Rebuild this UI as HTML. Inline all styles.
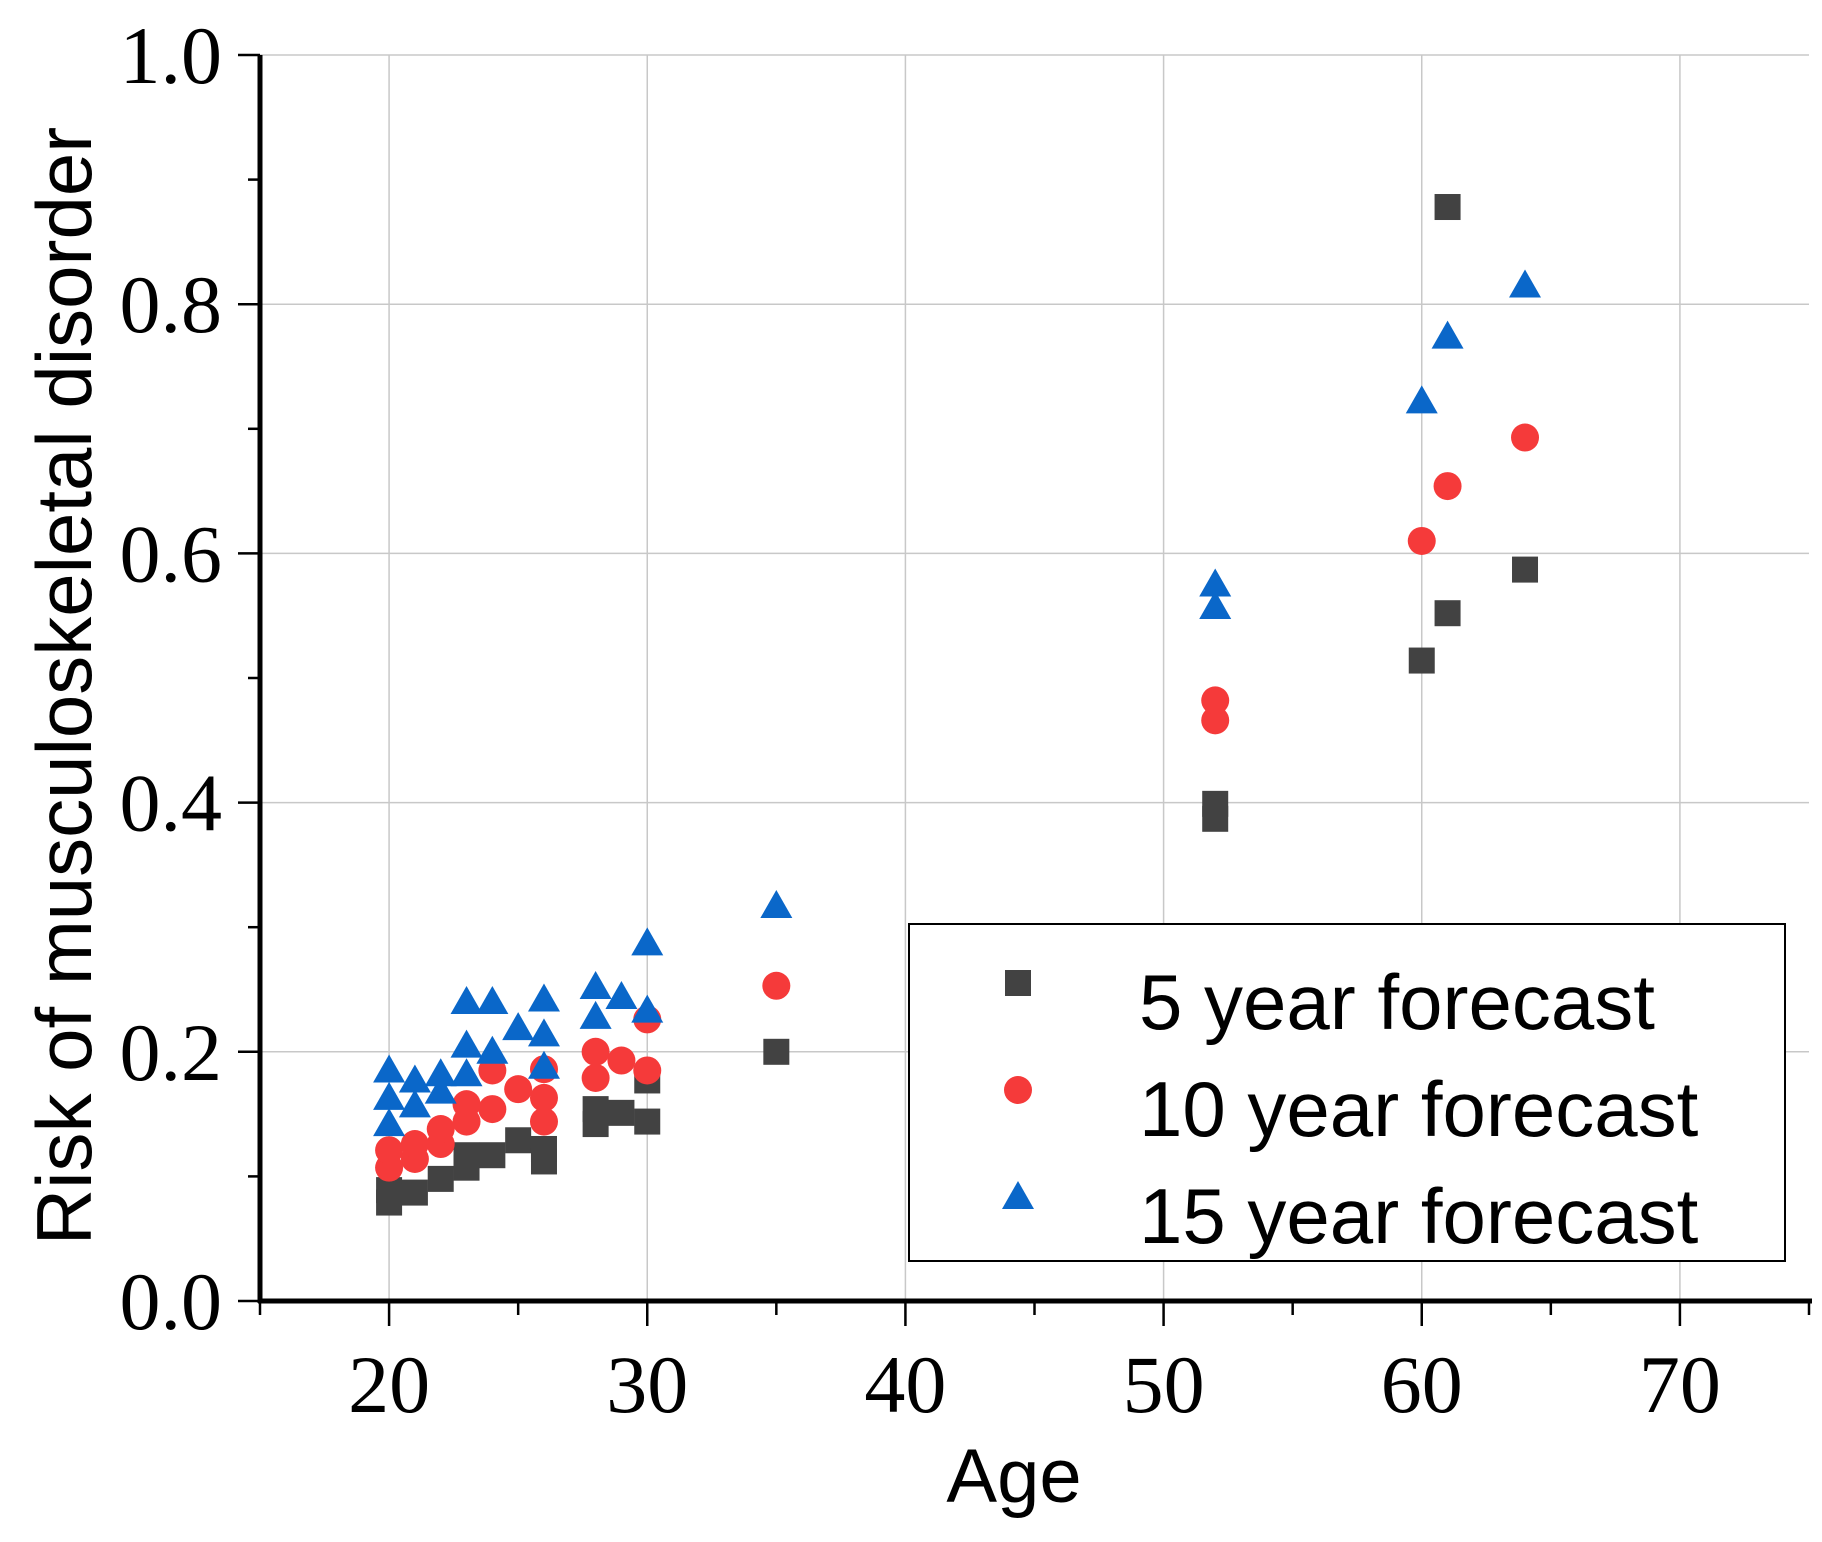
<!DOCTYPE html>
<html><head><meta charset="utf-8"><style>
html,body{margin:0;padding:0;background:#fff;}
svg{display:block;}
.tick{font-family:"Liberation Serif",serif;font-size:82px;fill:#000;}
.sans{font-family:"Liberation Sans",sans-serif;fill:#000;}
</style></head><body>
<svg id="chart" width="1822" height="1542" viewBox="0 0 1822 1542" xmlns="http://www.w3.org/2000/svg">
<g id="grid"></g>
<g id="axes"></g>
<g id="marks"></g>
<g id="legend"></g>
</svg>
<script>
const xTicks=[20,30,40,50,60,70];
const yTicks=[0,0.2,0.4,0.6,0.8,1.0];
const yTickLabels=["0.0","0.2","0.4","0.6","0.8","1.0"];
const ages5=[20,20,21,22,23,23,24,25,26,26,28,28,29,30,30,35,52,52,60,61,61,64];
const risk5=[0.079,0.089,0.087,0.098,0.107,0.117,0.117,0.129,0.112,0.122,0.142,0.154,0.151,0.144,0.177,0.200,0.387,0.399,0.514,0.552,0.878,0.587];
const ages10=[20,20,21,21,22,22,23,23,24,24,25,26,26,26,28,28,29,30,30,35,52,52,60,61,64];
const risk10=[0.107,0.121,0.114,0.126,0.126,0.138,0.144,0.158,0.154,0.185,0.170,0.144,0.163,0.186,0.179,0.200,0.193,0.185,0.226,0.253,0.466,0.482,0.610,0.654,0.693];
const ages15=[20,20,20,21,21,22,22,23,23,23,24,24,25,26,26,26,28,28,29,30,30,35,52,52,60,61,64];
const risk15=[0.142,0.163,0.185,0.157,0.177,0.168,0.182,0.182,0.205,0.240,0.200,0.240,0.219,0.188,0.214,0.242,0.228,0.252,0.244,0.233,0.287,0.317,0.557,0.575,0.722,0.774,0.815];

const NS="http://www.w3.org/2000/svg";
const L=260,R=1809,T=55,B=1301;
const X0=15,X1=75,Y0=0,Y1=1;
function sx(v){return L+(v-X0)/(X1-X0)*(R-L);}
function sy(v){return B-(v-Y0)/(Y1-Y0)*(B-T);}
function mk(tag,attrs,parent){const e=document.createElementNS(NS,tag);for(const k in attrs)e.setAttribute(k,attrs[k]);parent.appendChild(e);return e;}
const grid=document.getElementById('grid'),axes=document.getElementById('axes'),marks=document.getElementById('marks'),legend=document.getElementById('legend');

xTicks.forEach(v=>{
  const g=mk('line',{x1:sx(v),x2:sx(v),y1:T,y2:B,stroke:'#c8c8c8','stroke-width':1.5},grid);
  
  
});
yTicks.forEach(v=>{
  if(v===0)return;
  const g=mk('line',{x1:L,x2:R,y1:sy(v),y2:sy(v),stroke:'#c8c8c8','stroke-width':1.5},grid);
  
  
});
const ya=mk('line',{x1:L,x2:L,y1:T,y2:B+2,stroke:'#000','stroke-width':5},axes);


const xa=mk('line',{x1:L-2,x2:R+3,y1:B,y2:B,stroke:'#000','stroke-width':5},axes);


for(let v=X0;v<=X1;v+=5){
  const major=xTicks.includes(v);
  const t=mk('line',{x1:sx(v),x2:sx(v),y1:B,y2:B+(major?25:14),stroke:'#000','stroke-width':2.5},axes);
  
  
}
for(let i=0;i<=10;i++){
  const v=i/10;const major=i%2===0;
  const t=mk('line',{x1:L,x2:L-(major?22:12),y1:sy(v),y2:sy(v),stroke:'#000','stroke-width':2.5},axes);
  
  
}
xTicks.forEach(v=>{
  const t=mk('text',{x:sx(v),y:1412,'text-anchor':'middle',class:'tick'},axes);
  t.textContent=v;
  
  
});
yTicks.forEach((v,i)=>{
  const t=mk('text',{x:222,y:sy(v)+28,'text-anchor':'end',class:'tick'},axes);
  t.textContent=yTickLabels[i];
  
  
});
const xt=mk('text',{x:1014,y:1502,'text-anchor':'middle',class:'sans','font-size':76},axes);
xt.textContent='Age';


const yt=mk('text',{x:0,y:0,'text-anchor':'middle',class:'sans','font-size':78,transform:'translate(91,686) rotate(-90)'},axes);
yt.textContent='Risk of musculoskeletal disorder';



function square(cx,cy,p){return mk('rect',{x:cx-13,y:cy-13,width:26,height:26,fill:'#424242'},p);}
function circle(cx,cy,p){return mk('circle',{cx:cx,cy:cy,r:14,fill:'#f53a3a'},p);}
function tri(cx,cy,p){return mk('polygon',{points:`${cx},${cy-16} ${cx+16},${cy+12} ${cx-16},${cy+12}`,fill:'#0a67c9'},p);}
ages5.forEach((a,i)=>{
  const m=square(sx(a),sy(risk5[i]),marks);
  
  
});
ages10.forEach((a,i)=>{
  const m=circle(sx(a),sy(risk10[i]),marks);
  
  
});
ages15.forEach((a,i)=>{
  const m=tri(sx(a),sy(risk15[i]),marks);
  
  
});
const lb=mk('rect',{x:909,y:924,width:876,height:337,fill:'#fff',stroke:'#000','stroke-width':2},legend);


const names=['5 year forecast','10 year forecast','15 year forecast'];
const fns=[square,circle,tri];
const ly=[983,1090,1197];
names.forEach((n,i)=>{
  const m=fns[i](1018,ly[i],legend);
  
  
  const t=mk('text',{x:1139,y:ly[i]+46,class:'sans','font-size':78},legend);
  t.textContent=n;
  
  
});
</script>
</body></html>
